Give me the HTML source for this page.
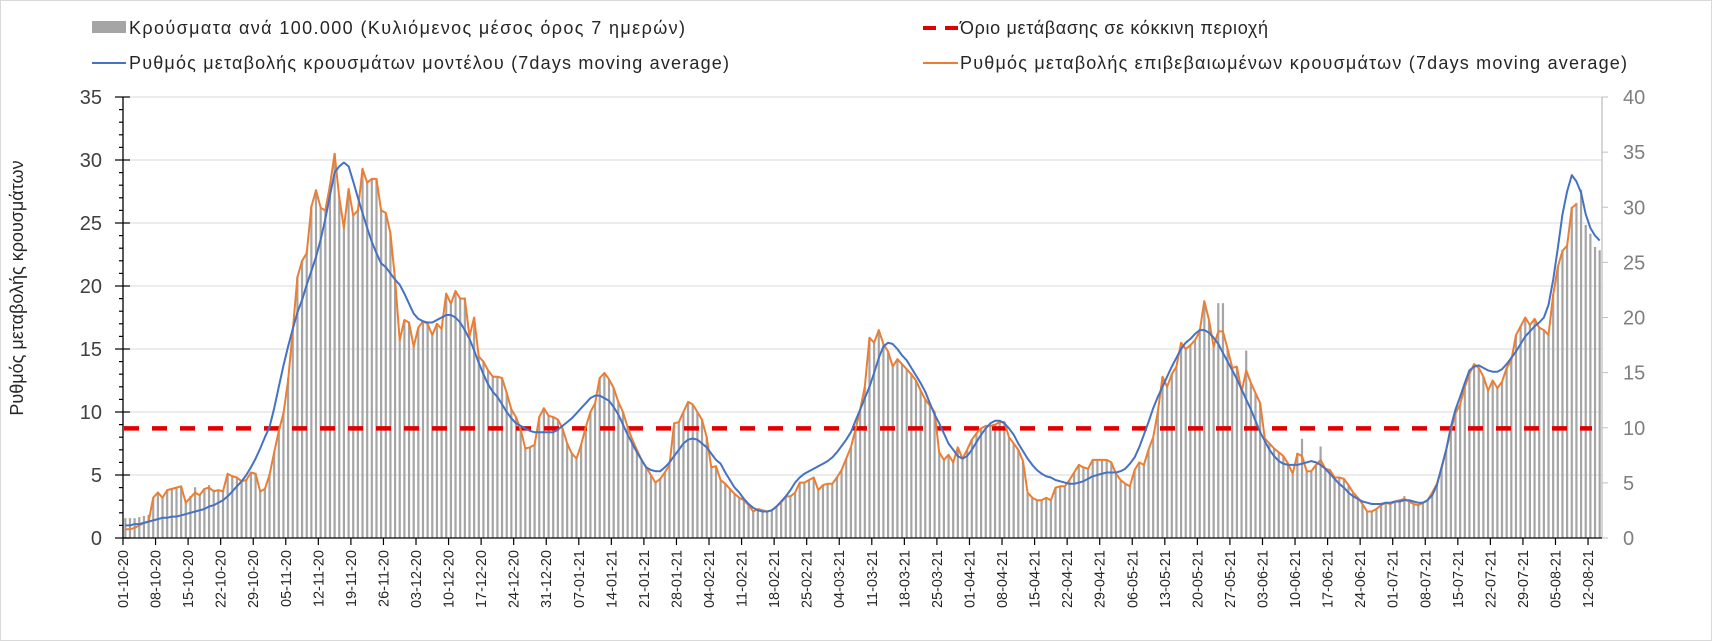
<!DOCTYPE html>
<html><head><meta charset="utf-8"><style>
html,body{margin:0;padding:0;background:#fff;}
svg{display:block;font-family:"Liberation Sans",sans-serif;}
</style></head><body>
<svg id="chart" width="1712" height="641" viewBox="0 0 1712 641" xmlns="http://www.w3.org/2000/svg">
<rect x="0.5" y="0.5" width="1711" height="640" fill="#fff" stroke="#d9d9d9"/>
<g id="legend">
 <g>
  <rect x="92" y="21" width="34" height="12" fill="#a5a5a5"/>
  <text x="129" y="34" font-size="18" fill="#262626" textLength="556" lengthAdjust="spacing">Κρούσματα ανά 100.000 (Κυλιόμενος μέσος όρος 7 ημερών)</text>
 </g>
 <g>
  <line x1="92" y1="63" x2="126" y2="63" stroke="#4472c4" stroke-width="2"/>
  <text x="129" y="69" font-size="18" fill="#262626" textLength="600" lengthAdjust="spacing">Ρυθμός μεταβολής κρουσμάτων μοντέλου (7days moving average)</text>
 </g>
 <g>
  <line x1="923" y1="28" x2="958" y2="28" stroke="#e00000" stroke-width="4" stroke-dasharray="13,9"/>
  <text x="960" y="34" font-size="18" fill="#262626" textLength="308" lengthAdjust="spacing">Όριο μετάβασης σε κόκκινη περιοχή</text>
 </g>
 <g>
  <line x1="923" y1="63" x2="958" y2="63" stroke="#ed7d31" stroke-width="2"/>
  <text x="960" y="69" font-size="18" fill="#262626" textLength="667" lengthAdjust="spacing">Ρυθμός μεταβολής επιβεβαιωμένων κρουσμάτων (7days moving average)</text>
 </g>
</g>
<text transform="translate(23,288) rotate(-90)" text-anchor="middle" font-size="18" fill="#262626">Ρυθμός μεταβολής κρουσμάτων</text>
<g id="grid"></g><g id="bars"></g><g id="lines"></g><g id="axes"></g>
</svg>
<script>
const orangeRate=[0.7,0.7,0.8,1.0,1.2,1.3,3.2, 3.6,3.2,3.8,3.9,4.0,4.1,2.8, 3.2,3.6,3.4,3.9,4.0,3.7,3.8, 3.7,5.1,4.9,4.8,4.5,4.6,5.2, 5.1,3.7,3.9,5.0,6.8,8.5,9.9,
12.5,16.5,20.7,22.0,22.6,26.3,27.6, 26.2,26.0,28.0,30.5,27.0,24.6,27.7, 25.6,26.0,29.3,28.2,28.5,28.5,26.0, 25.8,24.2,20.5,15.7,17.3,17.1,15.2,
16.7,17.2,17.0,16.1,17.0,16.6,19.4, 18.6,19.6,19.0,19.0,16.0,17.5,14.4, 14.0,13.3,12.8,12.8,12.7,11.5,10.2, 9.6,8.6,7.1,7.2,7.4,9.6,10.3,
9.7,9.6,9.4,8.7,7.5,6.7,6.3, 7.4,8.8,10.0,10.7,12.7,13.1,12.6, 11.9,10.8,10.0,8.8,7.8,7.0,6.2, 5.6,5.0,4.4,4.7,5.2,5.8,9.1,
9.2,10.0,10.8,10.6,10.0,9.4,8.0, 5.6,5.7,4.6,4.3,3.9,3.5,3.2, 3.0,2.6,2.1,2.3,2.2,2.1,2.2, 2.5,2.8,3.3,3.3,3.6,4.4,4.4,
4.6,4.8,3.8,4.2,4.3,4.3,4.8, 5.4,6.3,7.2,8.6,10.2,12.0,15.9, 15.5,16.5,15.4,14.8,13.6,14.2,13.8, 13.4,13.0,12.5,11.7,11.0,10.5,10.0,
6.8,6.2,6.6,6.0,7.2,6.3,7.0, 7.8,8.3,8.7,8.9,8.9,9.0,9.2, 9.2,8.0,7.5,7.0,6.1,3.6,3.2, 3.0,3.0,3.2,3.0,4.0,4.1,4.1,
4.6,5.2,5.8,5.6,5.5,6.2,6.2, 6.2,6.2,6.0,5.1,4.6,4.3,4.1, 5.4,6.0,5.8,7.0,8.0,10.0,12.8, 12.0,13.0,13.6,15.5,15.0,15.3,15.7,
16.4,18.8,17.3,15.2,16.4,16.4,15.0, 13.5,13.6,11.6,13.3,12.3,11.5,10.7, 7.9,7.5,7.1,6.8,6.5,5.9,5.1, 6.7,6.5,5.3,5.3,5.8,6.2,5.5,
5.4,4.8,4.8,4.7,4.2,3.6,3.2, 2.7,2.1,2.1,2.3,2.6,2.8,2.7, 2.9,3.0,3.1,2.9,2.7,2.6,2.8, 3.0,3.6,4.3,5.5,7.0,8.5,9.9,
10.6,12.0,13.0,13.8,13.5,12.8,11.7, 12.5,11.9,12.4,13.5,14.1,16.1,16.8, 17.5,16.9,17.4,16.7,16.5,16.1,19.3, 21.5,22.8,23.2,26.2,26.5];
const blueRate=[1.0,1.0,1.1,1.1,1.2,1.3,1.4, 1.5,1.6,1.6,1.7,1.7,1.8,1.9, 2.0,2.1,2.2,2.3,2.5,2.6,2.8, 3.0,3.3,3.7,4.1,4.5,5.0,5.6, 6.3,7.1,8.0,8.8,10.3,12.0,13.7,
15.2,16.6,17.9,18.9,20.1,21.2,22.3, 23.7,25.3,27.2,29.0,29.5,29.8,29.5, 28.3,27.0,25.8,24.6,23.5,22.6,21.8, 21.5,21.0,20.5,20.1,19.4,18.6,17.8,
17.4,17.2,17.1,17.1,17.3,17.5,17.7, 17.7,17.5,17.1,16.5,15.8,14.9,13.9, 13.0,12.2,11.6,11.2,10.6,10.0,9.5, 9.1,8.9,8.7,8.5,8.4,8.4,8.4,
8.4,8.4,8.6,8.9,9.2,9.5,9.9, 10.3,10.7,11.1,11.3,11.3,11.1,10.9, 10.4,9.8,9.0,8.2,7.5,6.8,6.2, 5.6,5.4,5.3,5.3,5.6,6.0,6.5,
7.0,7.5,7.8,7.9,7.8,7.5,7.2, 6.7,6.2,5.9,5.2,4.6,4.0,3.6, 3.1,2.7,2.4,2.2,2.1,2.1,2.2, 2.5,2.9,3.3,3.8,4.4,4.8,5.1,
5.3,5.5,5.7,5.9,6.1,6.4,6.8, 7.3,7.8,8.4,9.3,10.2,11.1,12.0, 13.1,14.3,15.2,15.5,15.4,15.0,14.5, 14.1,13.5,12.9,12.3,11.6,10.7,9.8,
9.1,8.3,7.5,7.0,6.5,6.3,6.5, 7.0,7.6,8.2,8.7,9.1,9.3,9.3, 9.1,8.7,8.2,7.5,6.9,6.3,5.8, 5.4,5.1,4.9,4.8,4.6,4.5,4.4,
4.3,4.3,4.4,4.5,4.7,4.9,5.0, 5.1,5.2,5.2,5.2,5.3,5.5,5.9, 6.4,7.2,8.2,9.2,10.3,11.2,12.0, 12.8,13.6,14.3,15.0,15.5,15.8,16.2,
16.5,16.5,16.3,15.9,15.4,14.7,14.0, 13.3,12.6,11.8,11.0,10.2,9.3,8.4, 7.7,7.0,6.5,6.1,5.9,5.8,5.8, 5.8,5.9,6.0,6.1,6.0,5.8,5.5,
5.1,4.7,4.3,4.0,3.6,3.3,3.1, 2.9,2.8,2.7,2.7,2.7,2.8,2.8, 2.9,2.9,3.0,3.0,2.9,2.8,2.8, 3.0,3.4,4.2,5.6,7.0,8.8,10.2,
11.2,12.3,13.3,13.6,13.7,13.5,13.3, 13.2,13.2,13.4,13.8,14.3,14.8,15.4, 16.0,16.4,16.8,17.1,17.5,18.5,20.5, 23.0,25.7,27.5,28.8,28.3,27.4,25.7,
24.6,24.0,23.6];
const casesPer100k=[1.8,1.8,1.8,1.9,2.0,2.1,3.6, 4.2,3.8,4.3,4.5,4.6,4.7,3.3, 3.8,4.6,4.0,4.5,4.8,4.4,4.4, 4.3,5.8,5.6,5.5,5.2,5.3,6.0, 5.9,4.3,4.5,5.8,7.8,9.8,11.4,
14.5,19.0,23.7,25.2,26.0,30.1,31.6, 30.0,29.8,32.0,34.9,31.0,28.2,31.7, 29.3,29.8,33.5,32.3,32.6,32.6,29.8, 29.5,27.7,23.5,18.0,19.8,19.6,17.4,
19.1,19.7,19.5,18.4,19.5,19.0,22.2, 21.3,22.4,21.8,21.8,18.3,20.0,16.5, 16.0,15.2,14.7,14.7,14.5,13.2,11.7, 11.0,9.8,8.1,8.2,8.5,11.0,11.8,
11.1,11.0,10.8,10.0,8.6,7.7,7.2, 8.5,10.1,11.4,12.2,14.5,15.0,14.4, 13.6,12.4,11.4,10.1,8.9,8.0,7.1, 6.4,5.7,5.0,5.4,5.9,6.6,10.4,
10.5,11.4,12.4,12.1,11.4,10.8,9.2, 6.4,6.5,5.3,4.9,4.5,4.0,3.7, 3.4,3.0,2.4,2.6,2.5,2.4,2.5, 2.9,3.2,3.8,3.8,4.1,5.0,5.0,
5.3,5.5,4.3,4.8,4.9,4.9,5.5, 6.2,7.2,8.2,9.8,11.7,13.7,18.2, 17.7,18.9,17.6,16.9,15.5,16.2,15.8, 15.3,14.9,14.3,13.4,12.6,12.0,11.4,
7.8,7.1,7.5,6.9,8.2,7.2,8.0, 8.9,9.5,9.9,10.2,10.2,10.3,10.5, 10.5,9.1,8.6,8.0,7.0,4.1,3.7, 3.4,3.4,3.7,3.4,4.6,4.7,4.7,
5.3,5.9,6.6,6.4,6.3,7.1,7.1, 7.1,7.1,6.9,5.8,5.3,4.9,4.7, 6.2,6.9,6.6,8.0,9.1,11.4,14.6, 13.7,14.9,15.5,17.7,17.1,17.5,17.9,
18.7,21.5,19.8,17.4,21.3,21.3,17.1, 15.4,15.5,13.3,17.0,14.1,13.1,12.2, 9.0,8.6,8.1,7.8,7.4,6.7,5.8, 7.7,9.0,6.1,6.1,6.6,8.3,6.3,
6.2,5.5,5.5,5.4,4.8,4.1,3.7, 3.1,2.4,2.4,2.6,3.0,3.2,3.1, 3.3,3.4,3.8,3.3,3.1,3.0,3.2, 3.4,4.1,4.9,6.3,8.0,9.7,11.3,
12.1,13.7,14.9,15.8,15.4,14.6,13.4, 14.3,13.6,14.2,15.4,16.1,18.4,19.2, 20.0,19.3,19.9,19.1,18.9,18.4,22.1, 24.6,26.1,26.5,30.0,30.4,31.6,28.4,
27.6,26.4,26.1];
const redThreshold=[8.7];
const leftTicks=[0,5,10,15,20,25,30,35];
const rightTicks=[0,5,10,15,20,25,30,35,40];
const dateLabels=["01-10-20","08-10-20","15-10-20","22-10-20","29-10-20","05-11-20","12-11-20","19-11-20","26-11-20","03-12-20","10-12-20","17-12-20","24-12-20","31-12-20","07-01-21","14-01-21","21-01-21","28-01-21","04-02-21","11-02-21","18-02-21","25-02-21","04-03-21","11-03-21","18-03-21","25-03-21","01-04-21","08-04-21","15-04-21","22-04-21","29-04-21","06-05-21","13-05-21","20-05-21","27-05-21","03-06-21","10-06-21","17-06-21","24-06-21","01-07-21","08-07-21","15-07-21","22-07-21","29-07-21","05-08-21","12-08-21"];

const NS="http://www.w3.org/2000/svg";
const X0=123,X1=1602,Y0=538,YT=97,N=318;
const dx=(X1-X0)/N;
const xCat=i=>X0+(i+0.5)*dx;
const xEdge=i=>X0+i*dx;
const yL=v=>Y0-v*(Y0-YT)/35;
const yR=v=>Y0-v*(Y0-YT)/40;
function mk(tag,attrs,parent){const e=document.createElementNS(NS,tag);for(const k in attrs)e.setAttribute(k,attrs[k]);parent.appendChild(e);return e;}
const grid=document.getElementById('grid'),bars=document.getElementById('bars'),lines=document.getElementById('lines'),axes=document.getElementById('axes');

leftTicks.forEach(t=>{if(t===0)return;const g=mk('line',{x1:X0,x2:X1,y1:yL(t),y2:yL(t),stroke:'#d9d9d9','stroke-width':1},grid);

});

casesPer100k.forEach((v,i)=>{const r=mk('rect',{x:xCat(i)-1.1,y:yR(v),width:2.2,height:Y0-yR(v),fill:'#a5a5a5'},bars);

});

const th=mk('line',{x1:X0+1,x2:X1-10,y1:yL(redThreshold[0]),y2:yL(redThreshold[0]),stroke:'#e00000','stroke-width':4.5,'stroke-dasharray':'15,13'},lines);



const ptsO=orangeRate.map((v,i)=>xCat(i).toFixed(1)+','+yL(v).toFixed(1)).join(' ');
const po=mk('polyline',{points:ptsO,fill:'none',stroke:'#ed7d31','stroke-width':2,'stroke-linejoin':'round'},lines);


const ptsB=blueRate.map((v,i)=>xCat(i).toFixed(1)+','+yL(v).toFixed(1)).join(' ');
const pb=mk('polyline',{points:ptsB,fill:'none',stroke:'#4472c4','stroke-width':2,'stroke-linejoin':'round'},lines);



const la=mk('line',{x1:X0,x2:X0,y1:YT,y2:Y0,stroke:'#000','stroke-width':1.3},axes);


for(let v=0;v<=35;v++){const major=v%5===0;
 mk('line',{x1:major?X0-8:X0-4,x2:major?X0+7:X0,y1:yL(v),y2:yL(v),stroke:'#000','stroke-width':1.2},axes);}
leftTicks.forEach(t=>{const tx=mk('text',{x:102,y:yL(t)+7,'text-anchor':'end','font-size':20,fill:'#404040'},axes);tx.textContent=t;

});
const ra=mk('line',{x1:X1,x2:X1,y1:YT,y2:Y0,stroke:'#bfbfbf','stroke-width':1.3},axes);


rightTicks.forEach(t=>{mk('line',{x1:X1,x2:X1+6,y1:yR(t),y2:yR(t),stroke:'#bfbfbf','stroke-width':1},axes);
const tx=mk('text',{x:1623,y:yR(t)+7,'font-size':20,fill:'#7f7f7f'},axes);tx.textContent=t;

});
const xa=mk('line',{x1:X0,x2:X1,y1:Y0,y2:Y0,stroke:'#000','stroke-width':1.3},axes);


dateLabels.forEach((d,k)=>{const x=xEdge(k*7);
 mk('line',{x1:x,x2:x,y1:Y0,y2:Y0+7,stroke:'#000','stroke-width':1.2},axes);
 const tx=mk('text',{transform:`translate(${(x+5).toFixed(1)},550) rotate(-90)`,'text-anchor':'end','font-size':14.5,fill:'#262626'},axes);tx.textContent=d;
 
 });
</script>
</body></html>
